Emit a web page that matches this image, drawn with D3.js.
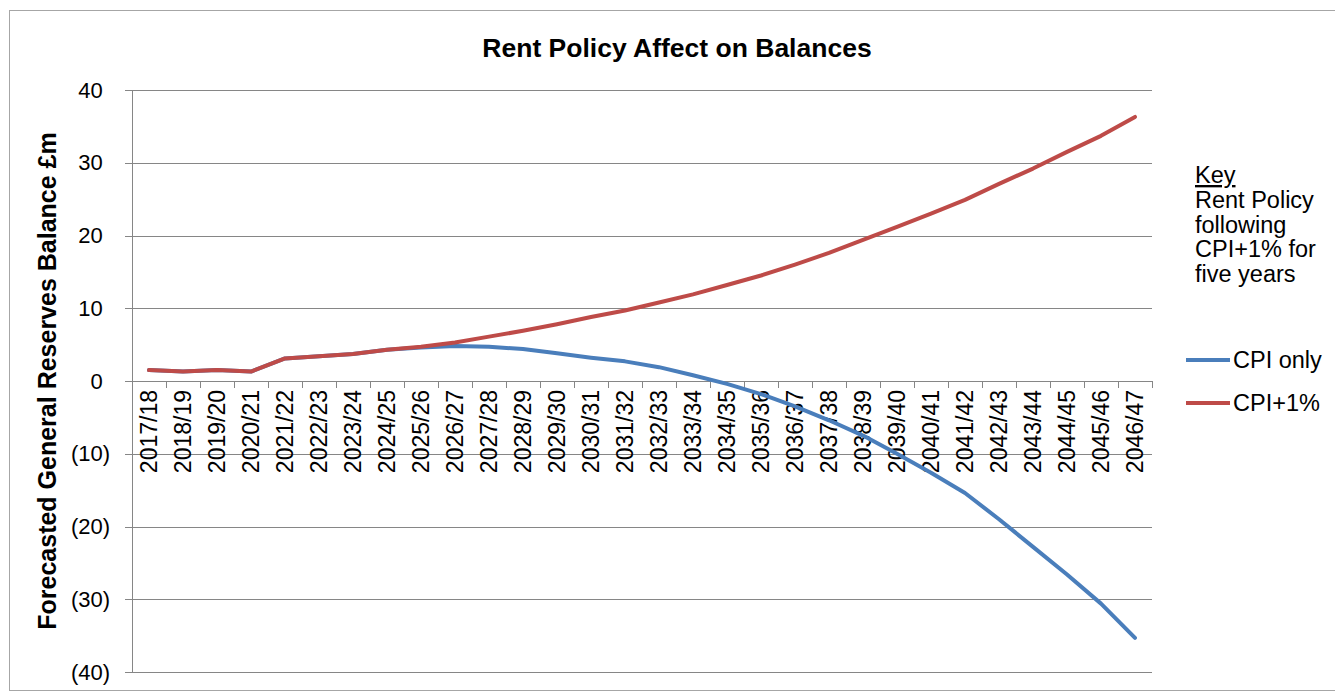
<!DOCTYPE html>
<html>
<head>
<meta charset="utf-8">
<script src="https://cdn.jsdelivr.net/npm/d3@7/dist/d3.min.js"></script>
<style>
  html, body { margin: 0; padding: 0; background: #fff; }
  svg { display: block; font-family: Arial, "Liberation Sans", sans-serif; }
</style>
</head>
<body>
<svg id="chart" width="1335" height="693"></svg>
<script>
const categories = ["2017/18","2018/19","2019/20","2020/21","2021/22","2022/23","2023/24","2024/25","2025/26","2026/27",
  "2027/28","2028/29","2029/30","2030/31","2031/32","2032/33","2033/34","2034/35","2035/36","2036/37",
  "2037/38","2038/39","2039/40","2040/41","2041/42","2042/43","2043/44","2044/45","2045/46","2046/47"];
const cpiOnly = [1.5,1.3,1.5,1.3,3.1,3.4,3.7,4.3,4.6,4.8,
  4.7,4.4,3.8,3.2,2.7,1.9,0.8,-0.4,-1.8,-3.5,
  -5.4,-7.5,-10.0,-12.6,-15.4,-19.0,-22.8,-26.6,-30.6,-35.3];
const cpiPlus1 = [1.5,1.3,1.5,1.3,3.1,3.4,3.7,4.3,4.7,5.3,
  6.1,6.9,7.8,8.8,9.7,10.8,11.9,13.2,14.5,16.0,
  17.6,19.4,21.2,23.0,24.9,27.1,29.2,31.5,33.7,36.3];
const yTicks = [-40,-30,-20,-10,0,10,20,30,40];
const seriesNames = ["CPI only","CPI+1%"];
const seriesColors = ["#4A7EBB","#BE4B48"];
const titleText = "Rent Policy Affect on Balances";
const yTitleText = "Forecasted General Reserves Balance £m";
const keyLines = ["Rent Policy","following","CPI+1% for","five years"];

const svg = d3.select("#chart");
const L = 132, R = 1152, T = 90, B = 672;

// chart frame
svg.append("rect").attr("x",9.5).attr("y",10.5).attr("width",1340).attr("height",680)
  .attr("fill","#fff").attr("stroke","#a6a6a6").attr("stroke-width",1);

const x = d3.scaleBand().domain(categories).range([L,R]);
const xb = d3.scaleLinear().domain([0,categories.length]).range([L,R]);
const y = d3.scaleLinear().domain([-40,40]).range([B,T]);
const gridCol = "#868686";

// gridlines (with left tick stubs)
const grid = svg.append("g").attr("transform",`translate(${L-7},0)`)
  .call(d3.axisRight(y).tickValues(yTicks).tickSize(R-L+7).tickFormat(""));
grid.select(".domain").remove();
grid.selectAll("line").attr("stroke",gridCol).attr("shape-rendering","crispEdges");

// y axis labels
const fmt = v => v < 0 ? `(${Math.abs(v)})` : `${v}`;
const yAx = svg.append("g").attr("transform",`translate(${L},0)`)
  .call(d3.axisLeft(y).tickValues(yTicks).tickSize(0).tickPadding(22).tickFormat(fmt));
yAx.select(".domain").attr("stroke",gridCol).attr("shape-rendering","crispEdges");
yAx.selectAll("text").attr("font-size",22).attr("fill","#000")
  .attr("dx", d => d < 0 ? 0 : "-0.333em");

// x axis tick marks at boundaries
const xTicksG = svg.append("g").attr("transform",`translate(0,${y(0)})`)
  .call(d3.axisBottom(xb).tickValues(d3.range(1,categories.length+1)).tickSize(7).tickSizeOuter(0).tickFormat(""));
xTicksG.select(".domain").attr("stroke",gridCol).attr("shape-rendering","crispEdges");
xTicksG.selectAll("line").attr("stroke",gridCol).attr("shape-rendering","crispEdges");

// x axis labels
const xLab = svg.append("g").attr("transform",`translate(0,${y(0)})`)
  .call(d3.axisBottom(x).tickSize(0));
xLab.select(".domain").remove();
xLab.selectAll("text").attr("font-size",23).attr("fill","#000")
  .attr("transform","rotate(-90)").attr("text-anchor","end")
  .attr("x",-9).attr("y",0).attr("dy","0.36em");

// lines
const line = d3.line().x((d,i)=>x(categories[i]) + x.bandwidth()/2).y(d=>y(d));
[cpiOnly, cpiPlus1].forEach((s,k) => {
  svg.append("path").datum(s).attr("d",line).attr("fill","none")
    .attr("stroke",seriesColors[k]).attr("stroke-width",4)
    .attr("stroke-linejoin","round").attr("stroke-linecap","round");
});

// title
svg.append("text").attr("x",677).attr("y",57).attr("text-anchor","middle")
  .attr("font-size",26.5).attr("font-weight","bold").attr("fill","#000").text(titleText);

// y title
svg.append("text").attr("transform",`translate(56,${(T+B)/2}) rotate(-90)`)
  .attr("text-anchor","middle").attr("font-size",25).attr("font-weight","bold")
  .attr("fill","#000").text(yTitleText);

// key
const key = svg.append("g");
key.append("text").attr("x",1195).attr("y",183).attr("font-size",23.5).attr("fill","#000")
  .attr("text-decoration","underline").text("Key");
keyLines.forEach((t,i) => {
  key.append("text").attr("x",1195).attr("y",208 + i*24.7).attr("font-size",23.5).attr("fill","#000").text(t);
});
seriesNames.forEach((n,i) => {
  const yy = 360 + i*43;
  key.append("line").attr("x1",1186).attr("x2",1230).attr("y1",yy).attr("y2",yy)
    .attr("stroke",seriesColors[i]).attr("stroke-width",4);
  key.append("text").attr("x",1233).attr("y",yy+8).attr("font-size",23.5).attr("fill","#000").text(n);
});
</script>
</body>
</html>
